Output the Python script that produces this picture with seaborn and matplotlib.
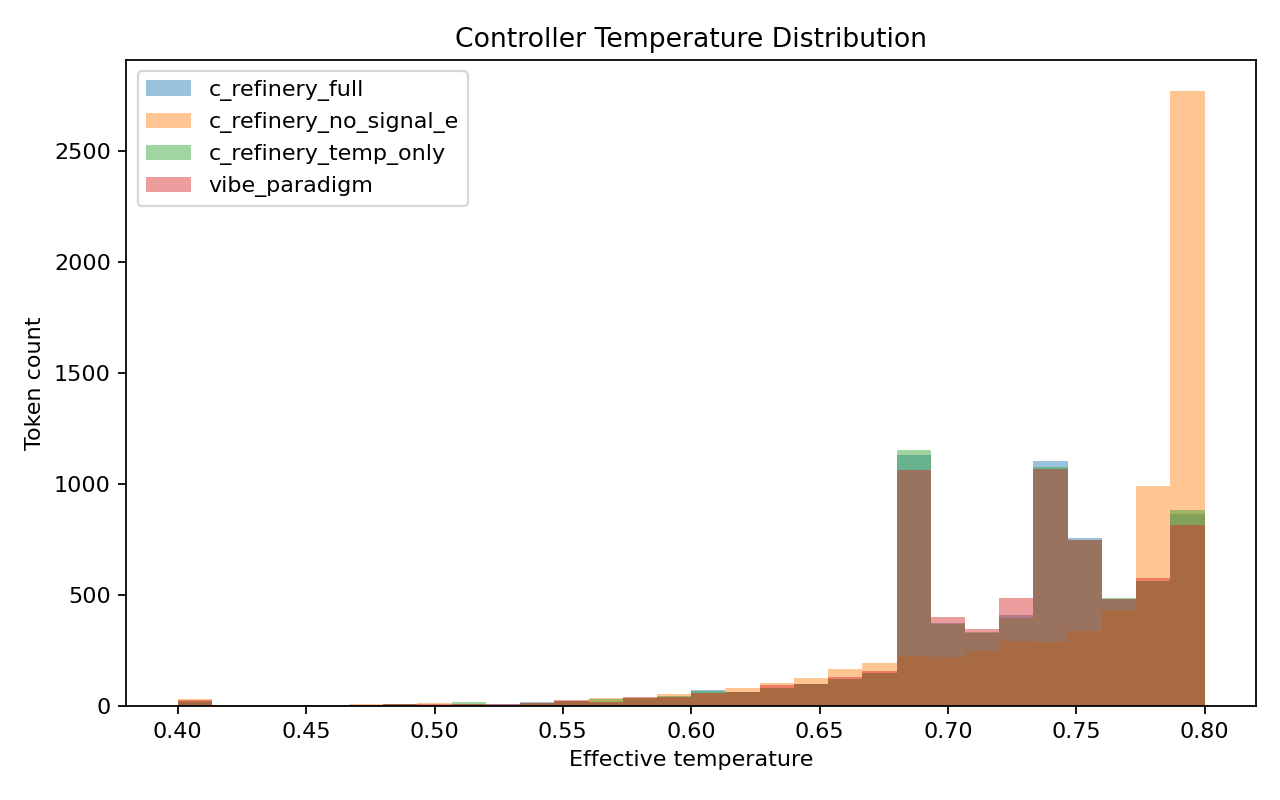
import matplotlib
matplotlib.use("Agg")
import matplotlib.pyplot as plt
import seaborn as sns
import numpy as np
import pandas as pd

# 30 bins from 0.40 to 0.80
n_bins = 30
bin_edges = np.linspace(0.40, 0.80, n_bins + 1)
bin_centers = (bin_edges[:-1] + bin_edges[1:]) / 2

runs = ['c_refinery_full', 'c_refinery_no_signal_e', 'c_refinery_temp_only', 'vibe_paradigm']

full_counts = [18, 4, 3, 3, 4, 4, 11, 4, 10, 10, 20, 22, 20, 36, 40, 72, 63, 81, 99, 121,
               147, 1130, 375, 330, 410, 1102, 756, 480, 565, 864]
no_signal_counts = [32, 4, 5, 3, 4, 8, 11, 12, 10, 6, 13, 22, 36, 36, 54, 58, 81, 103, 126, 166,
                    193, 225, 219, 247, 292, 288, 337, 432, 990, 2772]
temp_only_counts = [22, 6, 3, 3, 4, 4, 11, 4, 16, 6, 13, 22, 31, 36, 46, 67, 63, 81, 99, 121,
                    147, 1152, 370, 335, 398, 1075, 750, 486, 565, 882]
vibe_counts = [26, 4, 3, 5, 4, 4, 11, 8, 10, 10, 13, 27, 18, 40, 40, 58, 63, 94, 99, 130,
               157, 1062, 400, 346, 486, 1066, 748, 480, 576, 814]

all_counts = [full_counts, no_signal_counts, temp_only_counts, vibe_counts]
colors = sns.color_palette('tab10', 4)

fig, ax = plt.subplots(figsize=(8, 5), dpi=160)
for run, counts, col in zip(runs, all_counts, colors):
    df = pd.DataFrame({'temp': bin_centers, 'count': counts})
    sns.histplot(data=df, x='temp', weights='count', bins=n_bins, binrange=(0.40, 0.80),
                 color=col, alpha=0.45, linewidth=0, label=run, ax=ax)

ax.set_title('Controller Temperature Distribution')
ax.set_xlabel('Effective temperature')
ax.set_ylabel('Token count')
ax.legend(loc='upper left')
fig.subplots_adjust(left=0.0988, right=0.9812, bottom=0.1175, top=0.925)
plt.savefig('out.png', dpi=160)
